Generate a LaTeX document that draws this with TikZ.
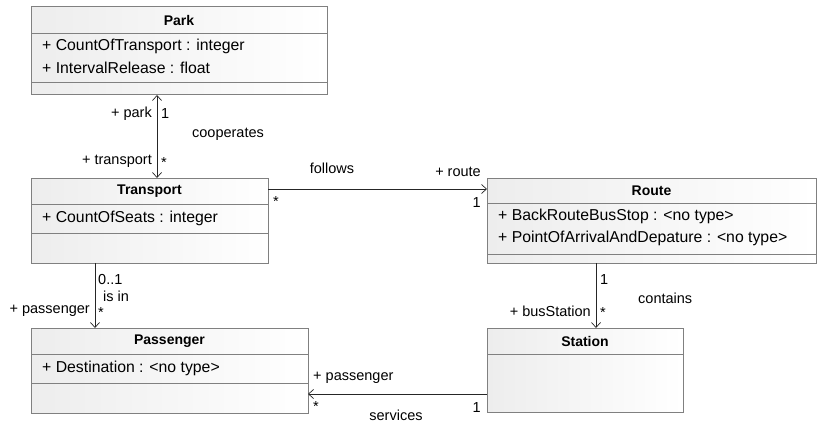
\documentclass[tikz,border=0pt]{standalone}
\usepackage{fontspec}
\setmainfont{Liberation Sans}
\usetikzlibrary{arrows.meta}
\definecolor{boxline}{HTML}{808080}
\definecolor{boxfill}{HTML}{EDEDED}
\begin{document}
\begin{tikzpicture}[x=1pt,y=-1pt,
  cls/.style={draw=boxline, line width=1pt, left color=boxfill, right color=white},
  sep/.style={draw=boxline, line width=0.8pt},
  title/.style={font=\fontsize{14}{16}\selectfont\bfseries, anchor=center, inner sep=0pt},
  attr/.style={font=\fontsize{15.8}{18}\selectfont, anchor=west, inner sep=0pt},
  lbl/.style={font=\fontsize{14.5}{16}\selectfont, inner sep=0pt},
  assoc/.style={draw=black!85, line width=0.8pt, -{Straight Barb[length=5pt,width=9pt,line width=0.7pt]}},
  bassoc/.style={draw=black!85, line width=0.8pt, {Straight Barb[length=5pt,width=9pt,line width=0.7pt]}-{Straight Barb[length=5pt,width=9pt,line width=0.7pt]}}]
\useasboundingbox (0,0) rectangle (818,422);
\fill[white] (0,0) rectangle (818,422);

% Park
\path[cls] (31,7) rectangle (327,95);
\draw[sep] (31,33) -- (327,33);
\draw[sep] (31,82) -- (327,82);
\node[title] (parkT) at (179,20) {Park};
\node[attr] (parkA1) at (42,46) {+ CountOfTransport : integer};
\node[attr] (parkA2) at (42,68) {+ IntervalRelease : float};
\coordinate (parkB) at (157,95);

% Transport
\path[cls] (31,178) rectangle (268,263);
\draw[sep] (31,204) -- (268,204);
\draw[sep] (31,233) -- (268,233);
\node[title] (transT) at (149.5,191) {Transport};
\node[attr] (transA1) at (42,218) {+ CountOfSeats : integer};
\coordinate (transTop) at (157,178);
\coordinate (transR) at (268,189);
\coordinate (transBot) at (95,263);

% Route
\path[cls] (487,178) rectangle (816,263);
\draw[sep] (487,203) -- (816,203);
\draw[sep] (487,254) -- (816,254);
\node[title] (routeT) at (651.5,190.5) {Route};
\node[attr] (routeA1) at (498,216) {+ BackRouteBusStop : <no type>};
\node[attr] (routeA2) at (498,238) {+ PointOfArrivalAndDepature : <no type>};
\coordinate (routeL) at (487,189);
\coordinate (routeBot) at (596,263);

% Passenger
\path[cls] (31,328) rectangle (308,413);
\draw[sep] (31,354) -- (308,354);
\draw[sep] (31,383) -- (308,383);
\node[title] (passT) at (169.5,341) {Passenger};
\node[attr] (passA1) at (42,368) {+ Destination : <no type>};
\coordinate (passTop) at (95,328);
\coordinate (passR) at (308,394);

% Station
\path[cls] (487,328) rectangle (683,412);
\draw[sep] (487,354) -- (683,354);
\node[title] (statT) at (585,341) {Station};
\coordinate (statTop) at (596,328);
\coordinate (statL) at (487,394);

% connectors
\draw[bassoc] (parkB) -- (transTop);
\draw[assoc] (transR) -- (routeL);
\draw[assoc] (transBot) -- (passTop);
\draw[assoc] (routeBot) -- (statTop);
\draw[assoc] (statL) -- (passR);

% labels Park-Transport
\node[lbl, anchor=east] (l1) at (152,114) {+ park};
\node[lbl, anchor=west] (l2) at (161,114) {1};
\node[lbl] (l3) at (228,134) {cooperates};
\node[lbl, anchor=east] (l4) at (152,161) {+ transport};
\node[lbl, anchor=west] (l5) at (161,163) {*};
% Transport-Route
\node[lbl] (l6) at (332,168) {follows};
\node[lbl, anchor=east] (l7) at (481,172) {+ route};
\node[lbl, anchor=west] (l8) at (273,202) {*};
\node[lbl, anchor=east] (l9) at (481,203) {1};
% Transport-Passenger
\node[lbl, anchor=west] (l10) at (98,280) {0..1};
\node[lbl, anchor=west] (l11) at (103,296) {is in};
\node[lbl, anchor=east] (l12) at (90,311) {+ passenger};
\node[lbl, anchor=west] (l13) at (98,313) {*};
% Route-Station
\node[lbl, anchor=west] (l14) at (600,280) {1};
\node[lbl, anchor=west] (l15) at (638,298) {contains};
\node[lbl, anchor=east] (l16) at (591,311) {+ busStation};
\node[lbl, anchor=west] (l17) at (600,313) {*};
% Station-Passenger
\node[lbl, anchor=west] (l18) at (313,378) {+ passenger};
\node[lbl, anchor=west] (l19) at (313,407) {*};
\node[lbl, anchor=east] (l20) at (481,408) {1};
\node[lbl] (l21) at (396,415) {services};
\end{tikzpicture}
\end{document}
